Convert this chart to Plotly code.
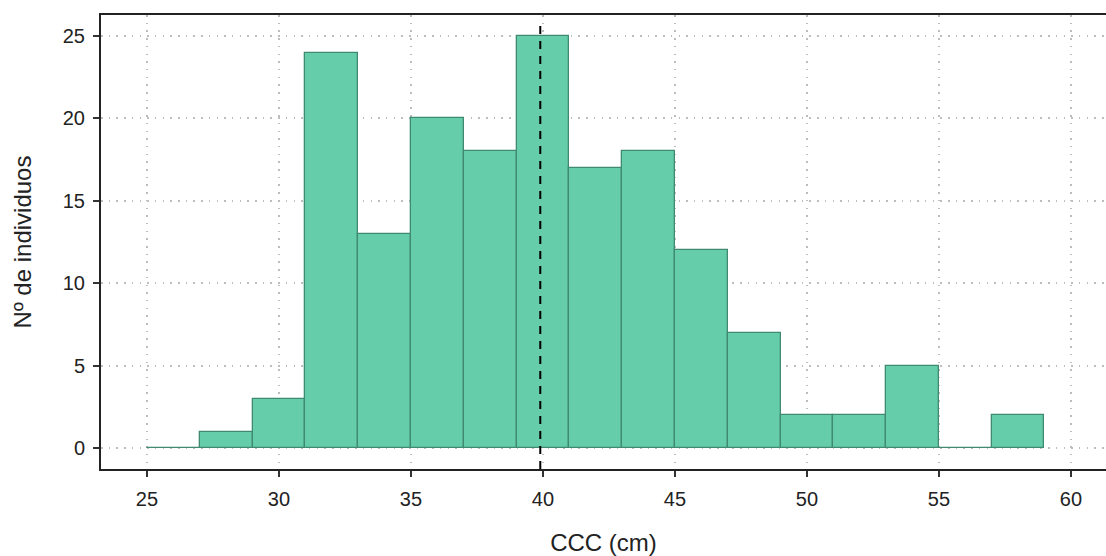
import plotly.graph_objects as go

bin_starts = [25, 27, 29, 31, 33, 35, 37, 39, 41, 43, 45, 47, 49, 51, 53, 55, 57]
counts = [0, 1, 3, 24, 13, 20, 18, 25, 17, 18, 12, 7, 2, 2, 5, 0, 2]
bin_width = 2
mean_line = 39.9
x_ticks = [25, 30, 35, 40, 45, 50, 55, 60]
y_ticks = [0, 5, 10, 15, 20, 25]

centers = [s + bin_width / 2 for s in bin_starts]

fig = go.Figure()
fig.add_trace(go.Bar(
    x=centers, y=counts, width=[bin_width] * len(centers),
    marker=dict(color="#66CDAA", line=dict(color="#3F8A70", width=1.3)),
    showlegend=False,
))
fig.add_shape(type="line", xref="x", yref="paper", x0=mean_line, x1=mean_line,
              y0=0, y1=0.985, line=dict(color="black", width=2, dash="8px,7px"))

font = "Liberation Sans, Arial, sans-serif"
grid = dict(showgrid=True, gridcolor="#BDBDBD", griddash="1.5px,6.2px", gridwidth=1.5)
fig.update_layout(
    width=1106, height=556,
    margin=dict(l=101, r=0, t=15, b=87),
    plot_bgcolor="white", paper_bgcolor="white",
    bargap=0,
    font=dict(family=font, size=19.5, color="#222222"),
    xaxis=dict(
        range=[23.26, 61.33], tickvals=x_ticks, ticks="outside", ticklen=6,
        tickwidth=1.5, tickcolor="#333333", ticklabelstandoff=5,
        showline=True, linecolor="#222222", linewidth=2, mirror=True,
        zeroline=False, **grid,
        title=dict(text="CCC (cm)", font=dict(size=24, color="#222222"), standoff=27),
        tickfont=dict(size=20, color="#222222"),
    ),
    yaxis=dict(
        range=[-1.276, 26.28], tickvals=y_ticks, ticks="outside", ticklen=6,
        tickwidth=1.5, tickcolor="#333333", ticklabelstandoff=4,
        showline=True, linecolor="#222222", linewidth=2,
        zeroline=False, **grid,
        title=dict(text="Nº de individuos", font=dict(size=24, color="#222222"), standoff=24),
        tickfont=dict(size=20, color="#222222"),
    ),
)
fig.write_html("out.html")
